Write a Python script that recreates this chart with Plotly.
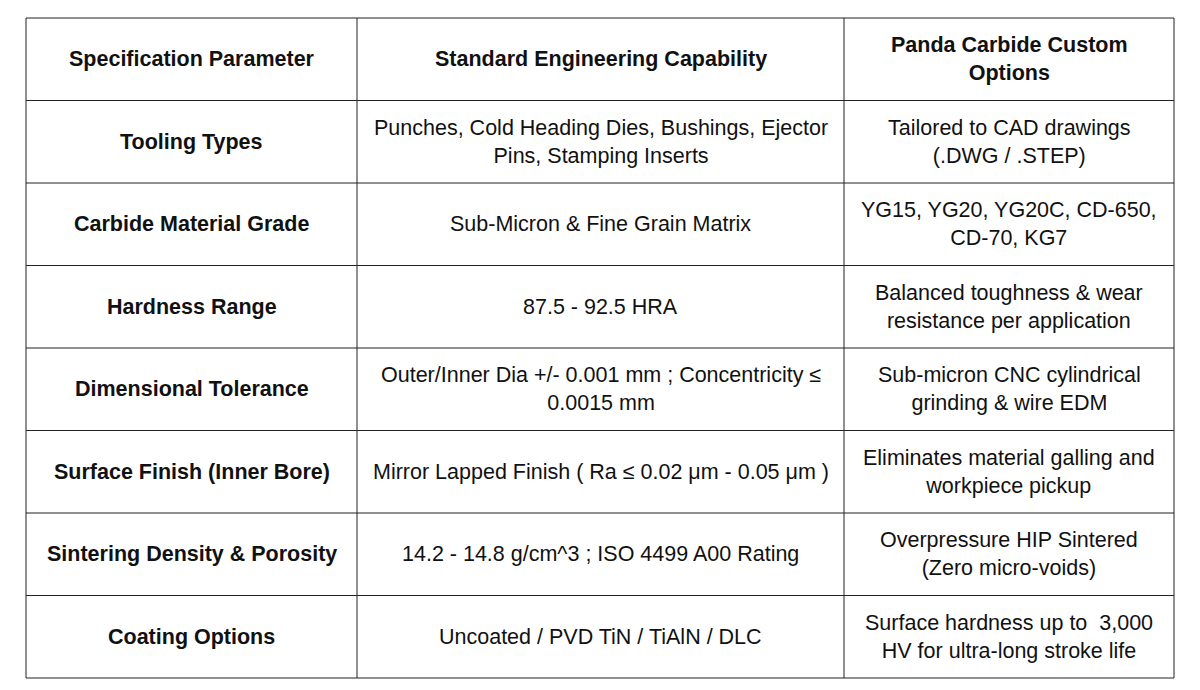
import plotly.graph_objects as go

headers = ["Specification Parameter", "Standard Engineering Capability", "Panda Carbide Custom<br>Options"]
params = ["Tooling Types", "Carbide Material Grade", "Hardness Range", "Dimensional Tolerance",
          "Surface Finish (Inner Bore)", "Sintering Density & Porosity", "Coating Options"]
standard = ["Punches, Cold Heading Dies, Bushings, Ejector<br>Pins, Stamping Inserts",
            "Sub-Micron & Fine Grain Matrix",
            "87.5 - 92.5 HRA",
            "Outer/Inner Dia +/- 0.001 mm ; Concentricity ≤<br>0.0015 mm",
            "Mirror Lapped Finish ( Ra ≤ 0.02 μm - 0.05 μm )",
            "14.2 - 14.8 g/cm^3 ; ISO 4499 A00 Rating",
            "Uncoated / PVD TiN / TiAlN / DLC"]
custom = ["Tailored to CAD drawings<br>(.DWG / .STEP)",
          "YG15, YG20, YG20C, CD-650,<br>CD-70, KG7",
          "Balanced toughness & wear<br>resistance per application",
          "Sub-micron CNC cylindrical<br>grinding & wire EDM",
          "Eliminates material galling and<br>workpiece pickup",
          "Overpressure HIP Sintered<br>(Zero micro-voids)",
          "Surface hardness up to  3,000<br>HV for ultra-long stroke life"]

off = 8  # page body margin
col_x = [26 - off, 357 - off, 844 - off, 1174 - off]
top, bottom = 18 - off, 678 - off
nrows = len(params) + 1
rh = (bottom - top) / nrows

fig = go.Figure()
shapes = []
for x in col_x:
    shapes.append(dict(type="line", x0=x, x1=x, y0=top, y1=bottom, line=dict(color="#222", width=1)))
for i in range(nrows + 1):
    y = top + i * rh
    shapes.append(dict(type="line", x0=col_x[0], x1=col_x[-1], y0=y, y1=y, line=dict(color="#222", width=1)))

ann = []
rows = [headers] + [[p, s, c] for p, s, c in zip(params, standard, custom)]
for r, row in enumerate(rows):
    yc = top + (r + 0.5) * rh
    for c, txt in enumerate(row):
        xc = (col_x[c] + col_x[c + 1]) / 2
        bold = (r == 0 or c == 0)
        ann.append(dict(x=xc, y=yc, text=f"<b>{txt}</b>" if bold else txt, showarrow=False,
                        xanchor="center", yanchor="middle", align="center",
                        font=dict(family="Liberation Sans, Arial", size=21.5, color="#111")))

fig.update_layout(width=1200, height=690, margin=dict(l=0, r=0, t=0, b=0),
                  paper_bgcolor="white", plot_bgcolor="white", shapes=shapes, annotations=ann,
                  xaxis=dict(range=[0, 1200], visible=False, fixedrange=True),
                  yaxis=dict(range=[690, 0], visible=False, fixedrange=True))
fig.write_html("out.html")
